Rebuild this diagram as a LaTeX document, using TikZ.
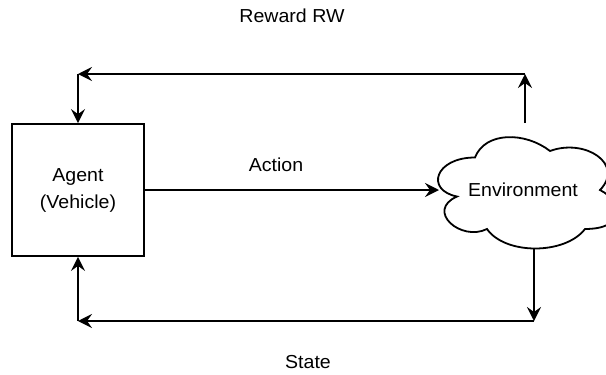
\documentclass[tikz,border=0pt]{standalone}
\usepackage{fontspec}
\setmainfont[FakeStretch=1.04]{Liberation Sans}
\usetikzlibrary{arrows.meta}

\tikzset{
  line/.style={line width=1.8pt, draw=black},
  flow/.style={line, -{Stealth[length=14pt, width=14pt, inset=5pt]}},
  txt/.style={font=\fontsize{18.8}{27}\selectfont},
  lbl/.style={txt, inner sep=0pt, anchor=base},
  agentbox/.style={line, txt, rectangle, minimum width=132pt, minimum height=132pt,
    inner sep=0pt, align=center},
}

\begin{document}
\begin{tikzpicture}[x=1pt, y=-1pt]
  \clip (0,0) rectangle (606,375);

  % agent block
  \node[agentbox] (agent) at (78,190) {Agent\\(Vehicle)};

  % environment cloud
  \draw[line, fill=white] (475,157.5)
    .. controls (435,157.5) and (425,190) .. (457,196.5)
    .. controls (425,210.8) and (461,242) .. (487,229)
    .. controls (505,255) and (565,255) .. (585,229)
    .. controls (625,229) and (625,203) .. (600,190)
    .. controls (625,164) and (585,138) .. (550,151)
    .. controls (525,131.5) and (485,131.5) .. (475,157.5) -- cycle;
  \node[lbl] (env) at (523,196) {Environment};

  % attachment points on the cloud and corners of the loops
  \coordinate (envW) at (439,190);
  \coordinate (envN) at (525,123);
  \coordinate (envS) at (534,249);
  \coordinate (topR) at (525,74);
  \coordinate (topL) at (78,74);
  \coordinate (botR) at (534,321);
  \coordinate (botL) at (78,321);

  % action
  \draw[flow] (agent.east |- envW) -- (envW);
  \node[lbl] (action) at (276,171) {Action};

  % reward loop
  \draw[flow] (envN) -- (topR);
  \draw[flow] (topR) -- (topL);
  \draw[flow] (topL) -- (agent.north);
  \node[lbl] (reward) at (292,22.7) {Reward RW};

  % state loop
  \draw[flow] (envS) -- (botR);
  \draw[flow] (botR) -- (botL);
  \draw[flow] (botL) -- (agent.south);
  \node[lbl] (state) at (308,368) {State};
\end{tikzpicture}
\end{document}
